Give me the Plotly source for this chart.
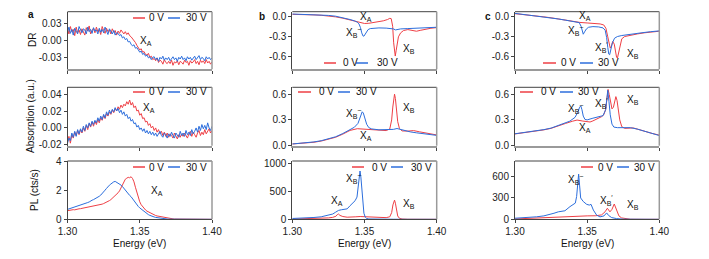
import numpy as np
import plotly.graph_objects as go

W, H = 709, 259
RED = "#EE3F45"
BLUE = "#2C6EDC"
FONT = "Liberation Sans, Arial, sans-serif"

# ---------------- data ----------------
# panel a: energy grid (eV), 1 meV sampling
E_a = np.round(1.300 + 0.001 * np.arange(101), 3)

# DR (x1e-3)
a_dr_0V_milli = [22, 12, 25, 16, 20, 9, 24, 14, 19, 11,
                 21, 15, 10, 23, 17, 26, 12, 18, 22, 14,
                 24, 16, 20, 11, 25, 18, 13, 22, 16, 19,
                 12, 21, 15, 18, 10, 17, 13, 19, 15, 12,
                 16, 11, 14, 9, 7, 4, 0, -3, -8, -12,
                 -16, -14, -20, -19, -24, -25, -22, -29, -27, -33,
                 -31, -35, -30, -38, -34, -36, -41, -33, -38, -40,
                 -36, -40, -34, -43, -37, -39, -35, -42, -36, -38,
                 -41, -34, -38, -36, -43, -35, -39, -37, -33, -40,
                 -36, -42, -34, -38, -35, -40, -33, -39, -36, -41, -37]
a_dr_30V_milli = [15, 24, 13, 20, 10, 22, 17, 12, 25, 18,
                  14, 21, 19, 12, 24, 16, 20, 13, 23, 17,
                  19, 12, 22, 15, 20, 14, 24, 17, 11, 21,
                  16, 12, 18, 10, 14, 13, 9, 11, 5, 7,
                  2, 4, -2, -1, -6, -9, -7, -13, -12, -17,
                  -20, -18, -24, -22, -27, -25, -30, -28, -33, -29,
                  -28, -33, -30, -36, -29, -32, -27, -34, -30, -33,
                  -29, -35, -31, -28, -33, -30, -36, -29, -32, -27,
                  -33, -30, -35, -28, -32, -29, -34, -31, -27, -33,
                  -30, -26, -33, -29, -31, -35, -28, -32, -29, -33, -30]
# Absorption (x1e-3)
a_abs_0V_milli = [-16, -10, -18, -8, -12, -5, -9, -3, -8, -2,
                  -6, 0, -4, 3, -2, 5, 1, 7, 2, 8,
                  4, 10, 6, 12, 9, 15, 11, 17, 14, 19,
                  16, 21, 18, 23, 20, 25, 22, 27, 24, 28,
                  26, 31, 28, 33, 27, 30, 24, 26, 20, 21,
                  15, 17, 11, 12, 7, 8, 3, 5, 0, 2,
                  -3, 0, -5, -2, -7, -4, -9, -5, -10, -6,
                  -11, -7, -9, -12, -6, -10, -13, -8, -11, -7,
                  -10, -6, -9, -12, -7, -4, -10, -5, -8, -11,
                  -6, -3, -9, -5, -8, -2, -7, -4, -1, -6, -3]
a_abs_30V_milli = [-18, -12, -15, -6, -11, -4, -10, -2, -7, -1,
                   -5, 2, -3, 4, 0, 6, 2, 8, 4, 9,
                   6, 12, 8, 14, 10, 16, 12, 19, 15, 21,
                   17, 22, 19, 24, 20, 23, 18, 21, 16, 19,
                   14, 16, 11, 13, 8, 10, 5, 6, 1, 3,
                   -2, 0, -4, -1, -6, -3, -7, -4, -8, -5,
                   -9, -6, -10, -7, -4, -9, -11, -6, -8, -12,
                   -7, -10, -5, -9, -12, -6, -8, -11, -4, -9,
                   -6, -10, -3, -8, -5, -9, -2, -7, -4, 0,
                   -5, 2, -3, 4, -1, 3, -2, 6, 0, -3, 2]
# PL (cts/s)
a_pl_0V = [0.59, 0.62, 0.61, 0.64, 0.66, 0.65, 0.69, 0.70, 0.72, 0.73,
           0.75, 0.78, 0.77, 0.80, 0.82, 0.81, 0.85, 0.87, 0.88, 0.90,
           0.93, 0.95, 0.98, 1.00, 1.04, 1.08, 1.12, 1.17, 1.22, 1.28,
           1.35, 1.44, 1.55, 1.62, 1.70, 1.82, 1.95, 2.15, 2.40, 2.60,
           2.75, 2.82, 2.88, 2.85, 2.92, 2.80, 2.57, 2.20, 1.85, 1.50,
           1.20, 1.00, 0.85, 0.73, 0.64, 0.56, 0.50, 0.44, 0.38, 0.34,
           0.30, 0.26, 0.23, 0.21, 0.18, 0.15, 0.13, 0.11, 0.08, 0.06,
           0.05, 0.04, 0.03, 0.03, 0.02, 0.02, 0.01, 0.02, 0.01, 0.01,
           0.01, 0.00, 0.01, 0.00, 0.00, 0.01, 0.00, 0.00, 0.00, 0.01,
           0.00, 0.00, 0.00, 0.00, 0.00, 0.00, 0.00, 0.00, 0.00, 0.00, 0.00]
a_pl_30V = [0.68, 0.71, 0.74, 0.78, 0.80, 0.84, 0.87, 0.90, 0.93, 0.97,
            1.02, 1.05, 1.08, 1.12, 1.15, 1.19, 1.27, 1.31, 1.35, 1.40,
            1.43, 1.50, 1.58, 1.66, 1.75, 1.89, 2.00, 2.12, 2.25, 2.34,
            2.42, 2.52, 2.57, 2.60, 2.55, 2.50, 2.45, 2.35, 2.25, 2.11,
            2.00, 1.88, 1.75, 1.64, 1.55, 1.40, 1.27, 1.13, 0.98, 0.88,
            0.78, 0.70, 0.62, 0.52, 0.45, 0.38, 0.32, 0.27, 0.25, 0.20,
            0.16, 0.13, 0.11, 0.09, 0.07, 0.05, 0.04, 0.03, 0.02, 0.02,
            0.01, 0.01, 0.01, 0.00, 0.00, 0.00, 0.00, 0.00, 0.00, 0.00,
            0.00, 0.00, 0.00, 0.00, 0.00, 0.00, 0.00, 0.00, 0.00, 0.00,
            0.00, 0.00, 0.00, 0.00, 0.00, 0.00, 0.00, 0.00, 0.00, 0.00, 0.00]

# panel b
b_dr_0V_E = [1.300, 1.305, 1.310, 1.315, 1.320, 1.325, 1.330, 1.335, 1.340, 1.345,
             1.348, 1.350, 1.353, 1.356, 1.360, 1.363, 1.366, 1.3675, 1.3685, 1.3695,
             1.3702, 1.3708, 1.3713, 1.3719, 1.3726, 1.3735, 1.375, 1.377, 1.380, 1.383,
             1.386, 1.389, 1.392, 1.396, 1.400]
b_dr_0V = [0.030, 0.030, 0.026, 0.022, 0.016, 0.006, -0.008, -0.028, -0.058, -0.088,
           -0.102, -0.108, -0.105, -0.097, -0.085, -0.068, -0.048, -0.030, -0.035, -0.15,
           -0.40, -0.58, -0.60, -0.52, -0.40, -0.31, -0.25, -0.215, -0.200, -0.207,
           -0.225, -0.210, -0.195, -0.180, -0.170]
b_dr_30V_E = [1.300, 1.305, 1.310, 1.315, 1.320, 1.325, 1.330, 1.335, 1.340, 1.343,
              1.345, 1.3462, 1.3472, 1.3481, 1.3489, 1.3496, 1.3504, 1.3513, 1.3525, 1.354,
              1.357, 1.360, 1.365, 1.368, 1.370, 1.3715, 1.373, 1.375, 1.380, 1.385,
              1.390, 1.395, 1.400]
b_dr_30V = [0.035, 0.032, 0.030, 0.027, 0.022, 0.014, 0.002, -0.018, -0.048, -0.068,
            -0.088, -0.115, -0.17, -0.25, -0.295, -0.30, -0.27, -0.23, -0.20, -0.185,
            -0.177, -0.175, -0.178, -0.182, -0.190, -0.205, -0.198, -0.190, -0.185, -0.180,
            -0.175, -0.170, -0.165]
b_abs_0V_E = [1.300, 1.305, 1.310, 1.315, 1.320, 1.325, 1.330, 1.335, 1.340, 1.345,
              1.350, 1.355, 1.360, 1.365, 1.3675, 1.3688, 1.3696, 1.3702, 1.3708, 1.3714,
              1.3721, 1.3730, 1.3742, 1.376, 1.380, 1.384, 1.388, 1.392, 1.396, 1.400]
b_abs_0V = [0.020, 0.025, 0.031, 0.040, 0.054, 0.073, 0.098, 0.135, 0.178, 0.198,
            0.192, 0.183, 0.175, 0.176, 0.195, 0.30, 0.45, 0.56, 0.60, 0.55,
            0.42, 0.28, 0.20, 0.172, 0.170, 0.176, 0.162, 0.150, 0.136, 0.125]
b_abs_30V_E = [1.300, 1.305, 1.310, 1.315, 1.320, 1.325, 1.330, 1.335, 1.340, 1.343,
               1.3455, 1.3468, 1.3477, 1.3484, 1.3492, 1.3502, 1.3515, 1.353, 1.355, 1.360,
               1.365, 1.370, 1.3725, 1.375, 1.378, 1.382, 1.386, 1.390, 1.395, 1.400]
b_abs_30V = [0.020, 0.026, 0.034, 0.044, 0.058, 0.078, 0.104, 0.142, 0.188, 0.215,
             0.26, 0.32, 0.37, 0.395, 0.38, 0.32, 0.25, 0.21, 0.195, 0.185,
             0.184, 0.190, 0.200, 0.188, 0.172, 0.160, 0.150, 0.140, 0.130, 0.120]
b_pl_0V_E = [1.300, 1.310, 1.320, 1.325, 1.328, 1.3302, 1.3312, 1.3320, 1.3330, 1.335,
             1.338, 1.341, 1.344, 1.347, 1.350, 1.353, 1.357, 1.361, 1.365, 1.3675,
             1.3688, 1.3697, 1.3703, 1.3708, 1.3714, 1.3721, 1.3730, 1.3742, 1.376, 1.380,
             1.390, 1.400]
b_pl_0V = [5, 10, 18, 25, 35, 55, 85, 95, 70, 50,
           38, 36, 45, 50, 45, 37, 30, 26, 30, 45,
           120, 260, 330, 345, 290, 160, 60, 18, 5, 1,
           0, 0]
b_pl_30V_E = [1.300, 1.305, 1.310, 1.315, 1.320, 1.325, 1.328, 1.330, 1.332, 1.334,
              1.336, 1.338, 1.340, 1.342, 1.3435, 1.3448, 1.3456, 1.3463, 1.3469, 1.3475,
              1.3481, 1.3488, 1.3496, 1.3505, 1.3515, 1.353, 1.356, 1.360, 1.370, 1.380,
              1.390, 1.400]
b_pl_30V = [15, 19, 25, 33, 45, 68, 95, 128, 160, 172,
            178, 188, 245, 305, 335, 400, 560, 780, 870, 760,
            520, 270, 110, 40, 15, 6, 3, 2, 1, 0,
            0, 0]

# panel c
c_dr_0V_E = [1.300, 1.305, 1.310, 1.315, 1.320, 1.325, 1.330, 1.335, 1.340, 1.345,
             1.350, 1.355, 1.359, 1.3615, 1.3630, 1.3642, 1.3652, 1.3660, 1.3668, 1.3677,
             1.3688, 1.3697, 1.3704, 1.3710, 1.3717, 1.3727, 1.3740, 1.376, 1.380, 1.385,
             1.390, 1.395, 1.400]
c_dr_0V = [0.040, 0.030, 0.018, 0.004, -0.008, -0.022, -0.042, -0.060, -0.078, -0.092,
           -0.100, -0.108, -0.115, -0.130, -0.18, -0.30, -0.42, -0.48, -0.45, -0.38,
           -0.42, -0.55, -0.62, -0.63, -0.57, -0.45, -0.34, -0.305, -0.285, -0.265,
           -0.248, -0.235, -0.225]
c_dr_30V_E = [1.300, 1.305, 1.310, 1.315, 1.320, 1.325, 1.330, 1.335, 1.340, 1.3445,
              1.3458, 1.3466, 1.3473, 1.3482, 1.3495, 1.351, 1.354, 1.358, 1.361, 1.3625,
              1.3635, 1.3643, 1.3650, 1.3656, 1.3664, 1.3675, 1.369, 1.371, 1.374, 1.378,
              1.383, 1.388, 1.394, 1.400]
c_dr_30V = [0.045, 0.032, 0.020, 0.006, -0.006, -0.020, -0.040, -0.058, -0.076, -0.095,
            -0.15, -0.24, -0.27, -0.235, -0.19, -0.165, -0.155, -0.16, -0.175, -0.21,
            -0.32, -0.47, -0.57, -0.58, -0.50, -0.40, -0.33, -0.305, -0.29, -0.275,
            -0.262, -0.248, -0.232, -0.22]
c_abs_0V_E = [1.300, 1.305, 1.310, 1.315, 1.320, 1.325, 1.330, 1.335, 1.340, 1.343,
              1.347, 1.352, 1.354, 1.3577, 1.360, 1.3615, 1.3628, 1.3637, 1.3645, 1.3653,
              1.3662, 1.3672, 1.3682, 1.3692, 1.3699, 1.3707, 1.3716, 1.3726, 1.374, 1.376,
              1.382, 1.389, 1.395, 1.400]
c_abs_0V = [0.134, 0.145, 0.158, 0.170, 0.182, 0.200, 0.232, 0.258, 0.285, 0.298,
            0.286, 0.275, 0.288, 0.318, 0.338, 0.36, 0.42, 0.54, 0.66, 0.60,
            0.50, 0.43, 0.45, 0.55, 0.575, 0.53, 0.42, 0.30, 0.22, 0.20,
            0.205, 0.166, 0.140, 0.120]
c_abs_30V_E = [1.300, 1.305, 1.310, 1.315, 1.320, 1.325, 1.330, 1.335, 1.338, 1.3416,
               1.3435, 1.3448, 1.3456, 1.3464, 1.3473, 1.3485, 1.350, 1.354, 1.358, 1.361,
               1.3628, 1.3636, 1.3643, 1.3651, 1.3660, 1.3672, 1.3685, 1.371, 1.375, 1.380,
               1.385, 1.390, 1.395, 1.400]
c_abs_30V = [0.136, 0.147, 0.160, 0.172, 0.185, 0.203, 0.235, 0.262, 0.285, 0.33,
             0.39, 0.45, 0.465, 0.42, 0.345, 0.305, 0.30, 0.32, 0.335, 0.35,
             0.42, 0.55, 0.65, 0.52, 0.36, 0.25, 0.215, 0.208, 0.205, 0.208,
             0.190, 0.165, 0.140, 0.115]
c_pl_0V_E = [1.300, 1.310, 1.320, 1.330, 1.340, 1.350, 1.356, 1.360, 1.3624, 1.3640,
             1.3658, 1.3672, 1.3688, 1.3704, 1.3720, 1.3739, 1.3774, 1.380, 1.390, 1.400]
c_pl_0V = [5, 14, 24, 38, 46, 48, 50, 62, 105, 155,
           105, 140, 215, 130, 48, 19, 5, 1, 0, 0]
c_pl_30V_E = [1.300, 1.305, 1.310, 1.315, 1.320, 1.3242, 1.327, 1.330, 1.3346, 1.3381,
              1.3404, 1.3418, 1.3427, 1.3434, 1.3441, 1.3448, 1.3455, 1.3473, 1.3497, 1.3515,
              1.3527, 1.3543, 1.3566, 1.3589, 1.3617, 1.3635, 1.3649, 1.367, 1.3704, 1.375,
              1.380, 1.390, 1.400]
c_pl_30V = [15, 20, 27, 35, 48, 67, 85, 105, 120, 178,
            210, 228, 320, 510, 635, 470, 300, 250, 210, 200,
            210, 130, 58, 34, 48, 90, 53, 24, 10, 2,
            0, 0, 0]

x_tickvals = [1.30, 1.35, 1.40]
x_ticktext = ["1.30", "1.35", "1.40"]
legend_names = ["0 V", "30 V"]

# ---------------- layout geometry (pixels) ----------------
cols_px = [(67.5, 212.0), (292.3, 436.7), (515.0, 659.3)]
rows_px = [(11.7, 69.3), (87.3, 145.7), (161.0, 219.3)]


def px(x, y):
    return x / W, 1 - y / H


fig = go.Figure()

panels = [
    (0, 0, (E_a, np.array(a_dr_0V_milli) * 1e-3), (E_a, np.array(a_dr_30V_milli) * 1e-3),
     [-0.05, 0.051], [0.03, 0.0, -0.03], ["0.03", "0.00", "-0.03"]),
    (0, 1, (b_dr_0V_E, b_dr_0V), (b_dr_30V_E, b_dr_30V),
     [-0.80, 0.07], [0.0, -0.3, -0.6], ["0.0", "-0.3", "-0.6"]),
    (0, 2, (c_dr_0V_E, c_dr_0V), (c_dr_30V_E, c_dr_30V),
     [-0.80, 0.07], [0.0, -0.3, -0.6], ["0.0", "-0.3", "-0.6"]),
    (1, 0, (E_a, np.array(a_abs_0V_milli) * 1e-3), (E_a, np.array(a_abs_30V_milli) * 1e-3),
     [-0.021, 0.048], [0.04, 0.02, 0.0, -0.02], ["0.04", "0.02", "0.00", "-0.02"]),
    (1, 1, (b_abs_0V_E, b_abs_0V), (b_abs_30V_E, b_abs_30V),
     [0.0, 0.68], [0.6, 0.3, 0.0], ["0.6", "0.3", "0.0"]),
    (1, 2, (c_abs_0V_E, c_abs_0V), (c_abs_30V_E, c_abs_30V),
     [-0.005, 0.685], [0.6, 0.3, 0.0], ["0.6", "0.3", "0.0"]),
    (2, 0, (E_a, a_pl_0V), (E_a, a_pl_30V),
     [0, 4.0], [4, 2, 0], ["4", "2", "0"]),
    (2, 1, (b_pl_0V_E, b_pl_0V), (b_pl_30V_E, b_pl_30V),
     [0, 1050], [1000, 500, 0], ["1000", "500", "0"]),
    (2, 2, (c_pl_0V_E, c_pl_0V), (c_pl_30V_E, c_pl_30V),
     [0, 820], [600, 300, 0], ["600", "300", "0"]),
]

shapes = []
for r, c, red, blue, yr, ytv, ytt in panels:
    k = r * 3 + c + 1
    xs = "" if k == 1 else str(k)
    xa, ya = "x" + xs, "y" + xs
    fig.add_trace(go.Scatter(x=red[0], y=red[1], mode="lines", name=legend_names[0],
                             line=dict(color=RED, width=1), xaxis=xa, yaxis=ya, showlegend=False))
    fig.add_trace(go.Scatter(x=blue[0], y=blue[1], mode="lines", name=legend_names[1],
                             line=dict(color=BLUE, width=1), xaxis=xa, yaxis=ya, showlegend=False))
    x0p, x1p = cols_px[c]
    y0p, y1p = rows_px[r]
    fig.layout["xaxis" + xs] = dict(
        domain=[x0p / W, x1p / W], range=[1.30, 1.40], anchor=ya,
        tickvals=x_tickvals, ticktext=x_ticktext, showticklabels=(r == 2),
        ticks="outside", ticklen=3, tickcolor="#444", tickwidth=1,
        showline=True, linecolor="#444" if r == 2 else "#9a9a9a",
        linewidth=1 if r == 2 else 2,
        showgrid=False, zeroline=False, automargin=False,
        tickfont=dict(family=FONT, size=10, color="#222"),
    )
    fig.layout["yaxis" + xs] = dict(
        domain=[1 - y1p / H, 1 - y0p / H], range=yr, anchor=xa,
        tickvals=ytv, ticktext=ytt, ticks="outside", ticklen=3, tickcolor="#444",
        showline=True, linecolor="#444", linewidth=1,
        showgrid=False, zeroline=False, automargin=False,
        tickfont=dict(family=FONT, size=10, color="#222"),
    )
    shapes.append(dict(type="line", xref=xa + " domain", yref=ya + " domain",
                       x0=0, x1=1, y0=1, y1=1, line=dict(color="#444", width=1)))
    shapes.append(dict(type="line", xref=xa + " domain", yref=ya + " domain",
                       x0=1, x1=1, y0=0, y1=1, line=dict(color="#9a9a9a", width=1.5)))

annotations = []


def text(x, y, s, size=9, anchor="left", angle=0):
    xx, yy = px(x, y)
    annotations.append(dict(x=xx, y=yy, xref="paper", yref="paper", text=s, showarrow=False,
                            xanchor=anchor, yanchor="middle", textangle=angle,
                            font=dict(family=FONT, size=size, color="#111")))


legends = [
    (133, 145, 147, 168, 180, 184, 18),
    (133, 145, 147, 168, 180, 184, 92),
    (133, 145, 147, 168, 180, 184, 167),
    (324, 336, 341, 356, 368, 375, 63),
    (298, 311, 317, 338, 350, 354, 92),
    (352, 364, 370, 391, 403, 409, 167),
    (543, 556, 559, 580, 593, 596, 63),
    (520, 533, 539, 560, 573, 576, 92),
    (581, 593, 596, 617, 629, 632, 167),
]
for rx0, rx1, rtx, bx0, bx1, btx, ly in legends:
    for (lx0, lx1, col) in [(rx0, rx1, RED), (bx0, bx1, BLUE)]:
        a0, b0 = px(lx0, ly)
        a1, _ = px(lx1, ly)
        shapes.append(dict(type="line", xref="paper", yref="paper", x0=a0, x1=a1, y0=b0, y1=b0,
                           line=dict(color=col, width=1.5)))
    text(rtx, ly, legend_names[0], size=10)
    text(btx, ly, legend_names[1], size=10)

XA = "X<sub>A</sub>"
XB = "X<sub>B</sub>"
XBm = "X<sub>B</sub><sup>−</sup>"
XBp = "X<sub>B</sub><sup>′</sup>"
labels = [
    (138, 41, XA), (141, 108, XA), (149, 191, XA),
    (358, 17, XA), (344, 33, XBm), (401, 49, XB),
    (344, 113, XBm), (401, 108, XB), (358, 136, XA),
    (329, 201, XA), (344, 178, XBm), (401, 204, XB),
    (577, 16, XA), (566, 31, XBm), (593, 48, XBp), (625, 54, XB),
    (566, 108, XBm), (593, 103, XBp), (625, 100, XB), (577, 128, XA),
    (566, 179, XBm), (598, 200, XBp), (625, 205, XB),
]
for x, y, s in labels:
    text(x, y, s, size=10)

text(31, 15, "<b>a</b>", size=10, anchor="center")
text(262, 17, "<b>b</b>", size=10, anchor="center")
text(488, 17, "<b>c</b>", size=10, anchor="center")

text(32, 40, "DR", size=10, anchor="center", angle=-90)
text(30, 116, "Absorption (a.u.)", size=10, anchor="center", angle=-90)
text(34, 190, "PL (cts/s)", size=10, anchor="center", angle=-90)
for cx in [(67.5 + 212) / 2, (292.3 + 436.7) / 2, (515 + 659.3) / 2]:
    text(cx, 243, "Energy (eV)", size=10, anchor="center")

fig.update_layout(
    width=W, height=H, margin=dict(l=0, r=0, t=0, b=0, pad=0, autoexpand=False),
    paper_bgcolor="white", plot_bgcolor="white",
    shapes=shapes, annotations=annotations, showlegend=False,
    font=dict(family=FONT, size=10, color="#222"),
)

fig.write_html("out.html", config={"displayModeBar": False},
               post_script="document.body.style.margin='0px';document.body.style.padding='0px';")
